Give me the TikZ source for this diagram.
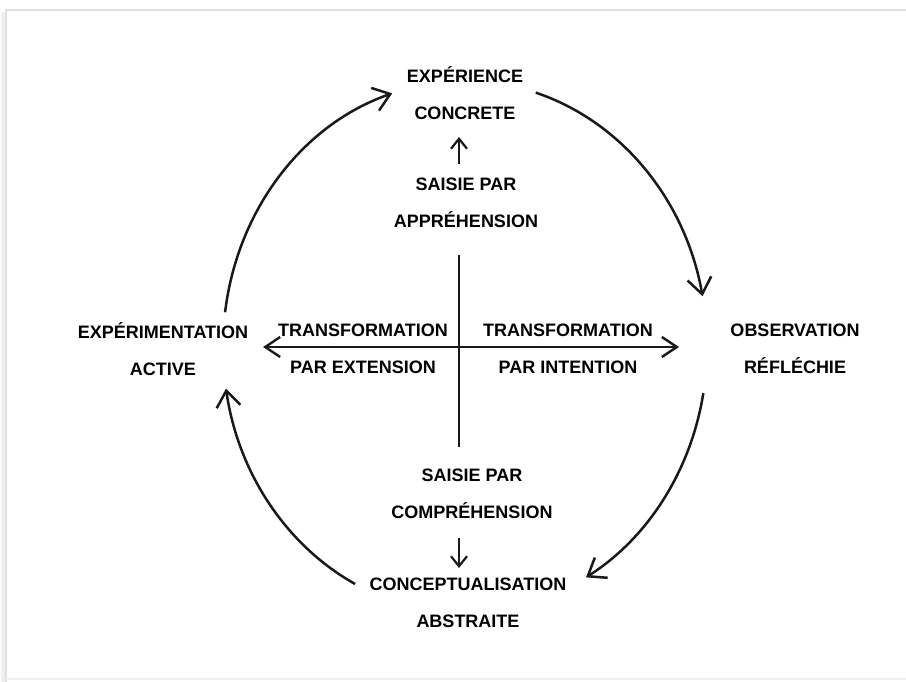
\documentclass[tikz,border=0pt]{standalone}
\usepackage{fontspec}
\setmainfont{Liberation Sans}
\usetikzlibrary{arrows.meta,calc}
\begin{document}
\begin{tikzpicture}[x=1pt,y=-1pt,
  lbl/.style={font=\fontsize{18}{37}\selectfont\bfseries, align=center, inner sep=0pt, text=black},
  cyc/.style={line width=2.5pt, draw=black!90, -{Straight Barb[length=16pt,width=24pt,line width=2.5pt]}},
  small/.style={line width=2.2pt, draw=black!90, -{Straight Barb[length=10pt,width=16pt,line width=2.2pt]}},
  axis/.style={line width=2.4pt, draw=black!90},
  frame/.style={draw=black!12, line width=2pt}]
\useasboundingbox (0,0) rectangle (906,682);
% frame
\draw[draw=black!6, line width=4pt] (3,12) -- (3,682);
\draw[frame] (906,10) -- (6,10) -- (6,682);
\draw[draw=black!6, line width=1.5pt] (6,679) -- (906,679);
% labels
\node[lbl] (ec) at (465,93) {EXPÉRIENCE\\CONCRETE};
\node[lbl] (sa) at (466,203) {SAISIE PAR\\APPRÉHENSION};
\node[lbl] (ea) at (163,349) {EXPÉRIMENTATION\\ACTIVE};
\node[lbl] (te) at (363,349) {TRANSFORMATION\\PAR EXTENSION};
\node[lbl] (ti) at (568,349) {TRANSFORMATION\\PAR INTENTION};
\node[lbl] (or) at (795,349) {OBSERVATION\\RÉFLÉCHIE};
\node[lbl] (sc) at (472,494) {SAISIE PAR\\COMPRÉHENSION};
\node[lbl] (ca) at (468,603) {CONCEPTUALISATION\\ABSTRAITE};
% axes
\coordinate (vt) at (459,255);
\coordinate (vb) at (459,447);
\coordinate (hl) at (263,347);
\coordinate (hr) at (679,347);
\draw[axis] (vt) -- (vb);
\draw[axis, {Straight Barb[length=15pt,width=20pt,line width=2.4pt]}-{Straight Barb[length=15pt,width=20pt,line width=2.4pt]}] (hl) -- (hr);
% small arrows
\coordinate (ua1) at (459,164);
\coordinate (ua2) at (459,137);
\draw[small] (ua1) -- (ua2);
\coordinate (da1) at (459,538);
\coordinate (da2) at (459,568);
\draw[small] (da1) -- (da2);
% cycle arcs on an ellipse
\coordinate (c) at (465,347);
\draw[cyc] ($(c)+(187.5:242 and 266)$) arc[start angle=187.5, end angle=252.5, x radius=242, y radius=266];
\draw[cyc] ($(c)+(287:242 and 266)$) arc[start angle=287, end angle=349, x radius=242, y radius=266];
\draw[cyc] ($(c)+(10:242 and 266)$) arc[start angle=10, end angle=60, x radius=242, y radius=266];
\draw[cyc] ($(c)+(117:242 and 266)$) arc[start angle=117, end angle=171, x radius=242, y radius=266];
\end{tikzpicture}
\end{document}
